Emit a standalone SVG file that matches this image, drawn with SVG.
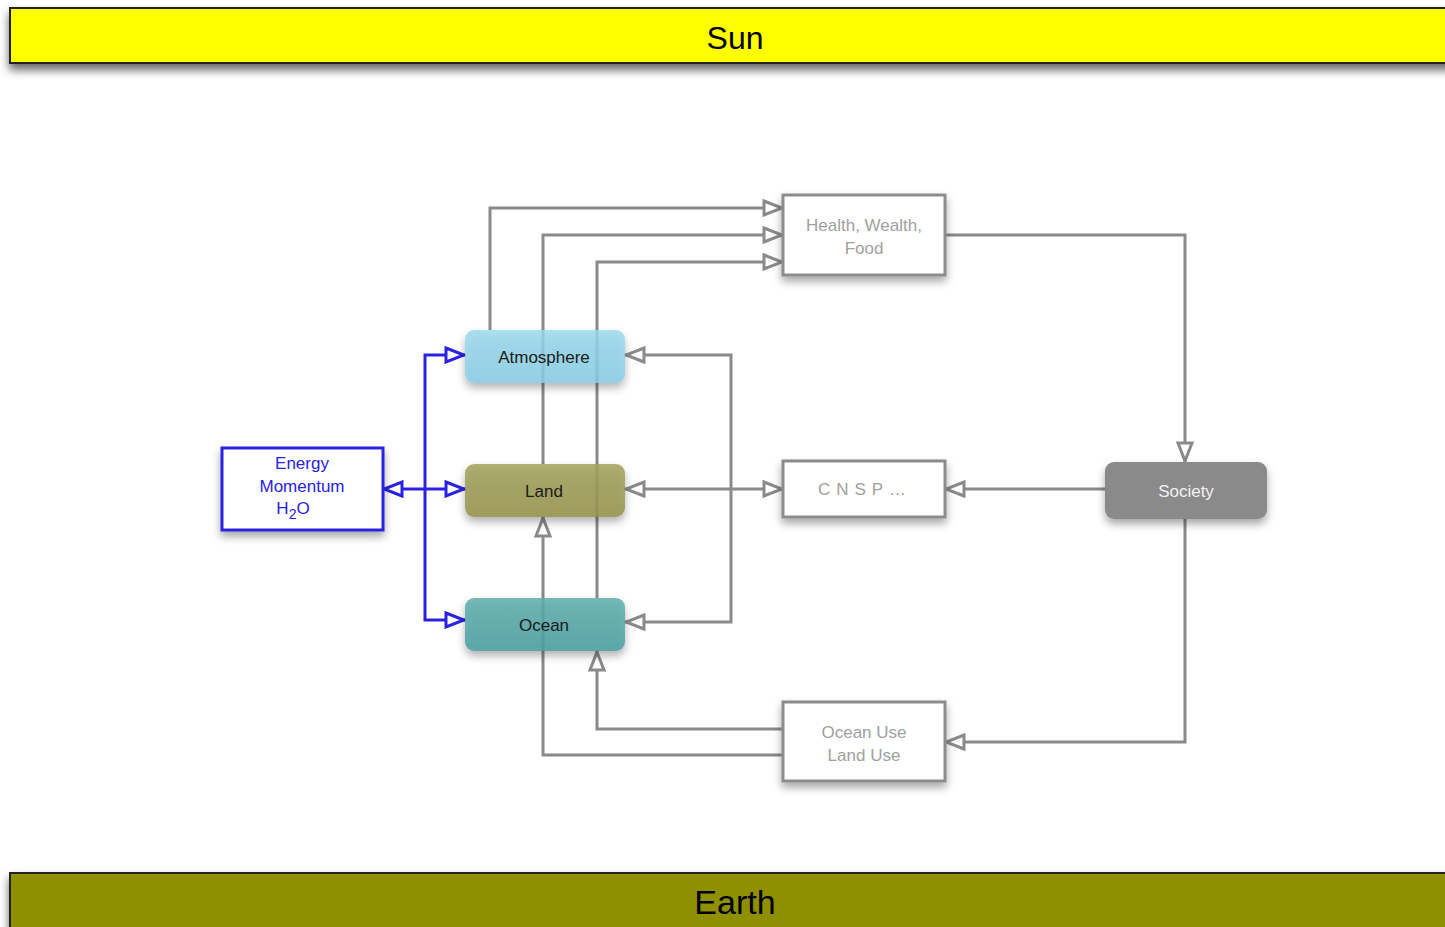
<svg xmlns="http://www.w3.org/2000/svg" width="1445" height="927" viewBox="0 0 1445 927">
<defs>
<style>
.lbl{font-family:"Liberation Sans",Arial,sans-serif;text-anchor:middle;}
.conn{fill:none;stroke:#8a8a8a;stroke-width:3;}
.blue{fill:none;stroke:#2b22e0;stroke-width:3;}
.gbox{fill:#ffffff;stroke:#8c8c8c;stroke-width:3;}
.gtxt{font-size:17px;fill:#a0a0a0;}
.ntxt{font-size:17px;fill:#1a1a1a;}
</style>
<filter id="sh" x="-20%" y="-30%" width="140%" height="170%">
<feDropShadow dx="0" dy="5" stdDeviation="4" flood-color="#000" flood-opacity="0.35"/>
</filter>
<filter id="shbar" x="-5%" y="-30%" width="110%" height="180%">
<feDropShadow dx="0" dy="6" stdDeviation="5" flood-color="#000" flood-opacity="0.6"/>
</filter>
<marker id="ag" viewBox="0 0 22 18" refX="21" refY="9" markerWidth="22" markerHeight="18" markerUnits="userSpaceOnUse" orient="auto-start-reverse">
<path d="M2,2 L20,9 L2,16 z" fill="#fff" stroke="#8a8a8a" stroke-width="3" stroke-linejoin="miter"/>
</marker>
<marker id="ab" viewBox="0 0 22 18" refX="21" refY="9" markerWidth="22" markerHeight="18" markerUnits="userSpaceOnUse" orient="auto-start-reverse">
<path d="M2,2 L20,9 L2,16 z" fill="#fff" stroke="#2b22e0" stroke-width="3" stroke-linejoin="miter"/>
</marker>
<linearGradient id="gAtm" x1="0" y1="0" x2="0" y2="1"><stop offset="0" stop-color="#9ad9ef"/><stop offset="1" stop-color="#86cde6"/></linearGradient>
<linearGradient id="gLand" x1="0" y1="0" x2="0" y2="1"><stop offset="0" stop-color="#a3a25c"/><stop offset="1" stop-color="#95944c"/></linearGradient>
<linearGradient id="gOcean" x1="0" y1="0" x2="0" y2="1"><stop offset="0" stop-color="#5eaeae"/><stop offset="1" stop-color="#4c9fa0"/></linearGradient>
</defs>
<rect width="1445" height="927" fill="#ffffff"/>

<g id="sun">
<rect x="10" y="8" width="1445" height="55" fill="#ffff00" stroke="#222" stroke-width="2" filter="url(#shbar)"/>
<text class="lbl" x="735" y="49" font-size="32" fill="#000">Sun</text>
</g>
<g id="earth">
<rect x="10" y="873" width="1445" height="60" fill="#8f8f00" stroke="#222" stroke-width="2" filter="url(#shbar)"/>
<text class="lbl" x="735" y="914" font-size="34" fill="#000">Earth</text>
</g>

<g id="connectors">
<path class="conn" d="M490,330 V208 H783" marker-end="url(#ag)"/>
<path class="conn" d="M543,464 V235 H783" marker-end="url(#ag)"/>
<path class="conn" d="M597,598 V262 H783" marker-end="url(#ag)"/>
<path class="conn" d="M945,235 H1185 V462" marker-end="url(#ag)"/>
<path class="conn" d="M1105,489 H945" marker-end="url(#ag)"/>
<path class="conn" d="M1185,519 V742 H945" marker-end="url(#ag)"/>
<path class="conn" d="M783,729 H597 V651" marker-end="url(#ag)"/>
<path class="conn" d="M783,755 H543 V517" marker-end="url(#ag)"/>
<path class="conn" d="M625,489 H783" marker-start="url(#ag)" marker-end="url(#ag)"/>
<path class="conn" d="M731,489 V355 H625" marker-end="url(#ag)"/>
<path class="conn" d="M731,489 V622 H625" marker-end="url(#ag)"/>
<path class="blue" d="M425,489 H383" marker-end="url(#ab)"/>
<path class="blue" d="M425,489 H465" marker-end="url(#ab)"/>
<path class="blue" d="M425,489 V355 H465" marker-end="url(#ab)"/>
<path class="blue" d="M425,489 V620 H465" marker-end="url(#ab)"/>
</g>

<g id="atmosphere">
<rect x="465" y="330" width="160" height="53" rx="9" fill="url(#gAtm)" fill-opacity="0.82" filter="url(#sh)"/>
<text class="lbl ntxt" x="544" y="363">Atmosphere</text>
</g>
<g id="land">
<rect x="465" y="464" width="160" height="53" rx="9" fill="url(#gLand)" fill-opacity="0.85" filter="url(#sh)"/>
<text class="lbl ntxt" x="544" y="497">Land</text>
</g>
<g id="ocean">
<rect x="465" y="598" width="160" height="53" rx="9" fill="url(#gOcean)" fill-opacity="0.85" filter="url(#sh)"/>
<text class="lbl ntxt" x="544" y="631">Ocean</text>
</g>
<g id="energy">
<rect x="222" y="448" width="161" height="82" fill="#fff" stroke="#2b22e0" stroke-width="3" filter="url(#sh)"/>
<text class="lbl" font-size="17" fill="#2b22e0"><tspan x="302" y="469">Energy</tspan><tspan x="302" y="492">Momentum</tspan><tspan x="293" y="514">H</tspan><tspan font-size="14" dy="5">2</tspan><tspan font-size="17" dy="-5">O</tspan></text>
</g>
<g id="health">
<rect class="gbox" x="783" y="195" width="162" height="80" filter="url(#sh)"/>
<text class="lbl gtxt"><tspan x="864" y="231">Health, Wealth,</tspan><tspan x="864" y="254">Food</tspan></text>
</g>
<g id="cnsp">
<rect class="gbox" x="783" y="461" width="162" height="56" filter="url(#sh)"/>
<text class="lbl gtxt" x="862" y="495"><tspan letter-spacing="6">CNSP</tspan>…</text>
</g>
<g id="society">
<rect x="1105" y="462" width="162" height="57" rx="9" fill="#8a8a8a" filter="url(#sh)"/>
<text class="lbl" x="1186" y="497" font-size="17" fill="#f2f2f2">Society</text>
</g>
<g id="use">
<rect class="gbox" x="783" y="702" width="162" height="79" filter="url(#sh)"/>
<text class="lbl gtxt"><tspan x="864" y="738">Ocean Use</tspan><tspan x="864" y="761">Land Use</tspan></text>
</g>
</svg>
